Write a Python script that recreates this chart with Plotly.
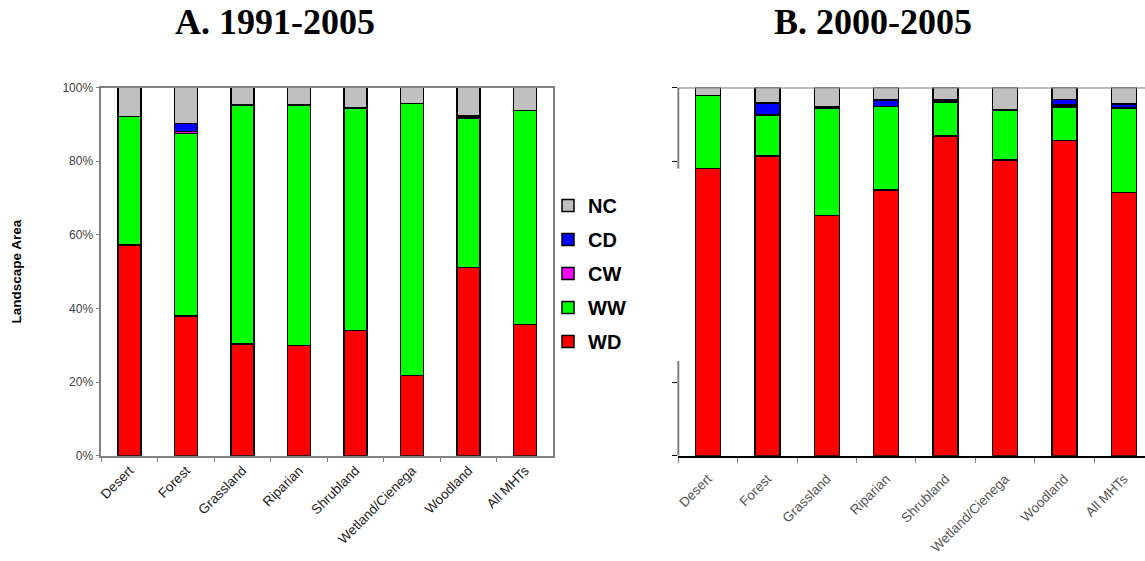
import plotly.graph_objects as go

categories = ["Desert", "Forest", "Grassland", "Riparian", "Shrubland",
              "Wetland/Cienega", "Woodland", "All MHTs"]

# Panel A: 1991-2005 (percent of landscape area)
a_WD = [57.2, 38.0, 30.4, 29.9, 34.0, 21.8, 51.1, 35.6]
a_WW = [34.9, 49.5, 64.8, 65.3, 60.4, 73.8, 40.6, 58.2]
a_CW = [0.0, 0.6, 0.0, 0.0, 0.0, 0.0, 0.0, 0.0]
a_CD = [0.0, 2.1, 0.0, 0.0, 0.0, 0.0, 0.5, 0.0]
a_NC = [7.9, 9.8, 4.8, 4.8, 5.6, 4.4, 7.8, 6.2]

# Panel B: 2000-2005
b_WD = [78.0, 81.4, 65.2, 72.1, 86.8, 80.3, 85.6, 71.5]
b_WW = [19.8, 11.1, 29.2, 22.7, 9.3, 13.6, 9.1, 22.9]
b_CW = [0.0, 0.0, 0.0, 0.0, 0.0, 0.0, 0.5, 0.0]
b_CD = [0.0, 3.3, 0.4, 1.8, 0.5, 0.0, 1.6, 1.1]
b_NC = [2.2, 4.2, 5.2, 3.4, 3.4, 6.1, 3.2, 4.5]

series_names = ["WD", "WW", "CW", "CD", "NC"]
legend_rank = {"NC": 1, "CD": 2, "CW": 3, "WW": 4, "WD": 5}
series_colors = {"WD": "#FF0000", "WW": "#00FF00", "CW": "#FF00FF",
                 "CD": "#0000FF", "NC": "#C0C0C0"}
panel_a = {"WD": a_WD, "WW": a_WW, "CW": a_CW, "CD": a_CD, "NC": a_NC}
panel_b = {"WD": b_WD, "WW": b_WW, "CW": b_CW, "CD": b_CD, "NC": b_NC}

W, H = 1145, 561
fig = go.Figure()

for name in series_names:
    fig.add_trace(go.Bar(
        x=categories, y=panel_a[name], name=name, xaxis="x", yaxis="y",
        width=0.41, legendgroup=name, legendrank=legend_rank[name], showlegend=True,
        marker=dict(color=series_colors[name], line=dict(color="black", width=1.5)),
    ))
for name in series_names:
    fig.add_trace(go.Bar(
        x=categories, y=panel_b[name], name=name, xaxis="x2", yaxis="y2",
        width=0.42, legendgroup=name, legendrank=legend_rank[name], showlegend=False,
        marker=dict(color=series_colors[name], line=dict(color="black", width=1.5)),
    ))

ydom = [(H - 455.7) / H, (H - 87.5) / H]
tickfont_y = dict(family="Liberation Sans, Arial, sans-serif", size=12, color="#404040")
tickfont_a = dict(family="Liberation Sans, Arial, sans-serif", size=13.5, color="#222222")
tickfont_b = dict(family="Liberation Sans, Arial, sans-serif", size=13.5, color="#555555")

fig.update_layout(
    width=W, height=H,
    margin=dict(l=0, r=0, t=0, b=0, autoexpand=False),
    paper_bgcolor="white", plot_bgcolor="white",
    barmode="stack",
    xaxis=dict(domain=[101.3 / W, 553.3 / W], type="category", automargin=False,
               range=[-0.5, 7.5], showline=True, linecolor="#808080", linewidth=1.5,
               mirror=True, ticks="outside", tickson="boundaries", ticklen=5,
               tickcolor="#808080", tickangle=-45, tickfont=tickfont_a,
               showgrid=False),
    yaxis=dict(domain=ydom, range=[0, 100], tickvals=[0, 20, 40, 60, 80, 100],
               ticktext=["0%", "20%", "40%", "60%", "80%", "100%"], automargin=False,
               showline=True, linecolor="#808080", linewidth=1.5, mirror=True,
               ticks="outside", ticklen=4, tickcolor="#808080",
               tickfont=tickfont_y, showgrid=False, zeroline=False),
    xaxis2=dict(domain=[678.3 / W, 1.0], type="category", anchor="y2", automargin=False,
                range=[-0.5, 7.357], showline=True, linecolor="black", linewidth=2,
                ticks="outside", tickson="boundaries", ticklen=5,
                tickcolor="#808080", tickangle=-45, tickfont=tickfont_b,
                ticklabelstandoff=8, showgrid=False),
    yaxis2=dict(domain=ydom, anchor="x2", range=[0, 100], automargin=False,
                tickvals=[0, 20, 80, 100], showticklabels=False,
                showline=False, ticks="outside", ticklen=5, tickcolor="black",
                showgrid=False, zeroline=False),
    showlegend=True,
    legend=dict(x=548 / W, y=1 - 186 / H, xanchor="left", yanchor="top",
                traceorder="grouped", tracegroupgap=5,
                font=dict(family="Liberation Sans, Arial, sans-serif", size=20,
                          color="black", weight="bold"),
                bgcolor="rgba(0,0,0,0)"),
    annotations=[
        dict(text="A. 1991-2005", x=275 / W, y=1 - 22 / H, xref="paper", yref="paper",
             showarrow=False, xanchor="center", yanchor="middle",
             font=dict(family="Liberation Serif, Times New Roman, serif", size=36,
                       color="black", weight="bold")),
        dict(text="B. 2000-2005", x=873 / W, y=1 - 22 / H, xref="paper", yref="paper",
             showarrow=False, xanchor="center", yanchor="middle",
             font=dict(family="Liberation Serif, Times New Roman, serif", size=36,
                       color="black", weight="bold")),
        dict(text="Landscape Area", x=17 / W, y=(ydom[0] + ydom[1]) / 2,
             xref="paper", yref="paper", showarrow=False, textangle=-90,
             xanchor="center", yanchor="middle",
             font=dict(family="Liberation Sans, Arial, sans-serif", size=13.5,
                       color="black", weight="bold")),
    ],
    shapes=[
        # panel B: gray top frame line
        dict(type="line", xref="x2 domain", yref="y2", x0=0, x1=1, y0=100, y1=100,
             line=dict(color="#808080", width=2)),
        # panel B: broken y-axis line (upper and lower pieces)
        dict(type="line", xref="x2 domain", yref="y2", x0=0, x1=0, y0=78, y1=100,
             line=dict(color="#808080", width=2)),
        dict(type="line", xref="x2 domain", yref="y2", x0=0, x1=0, y0=0, y1=25.7,
             line=dict(color="#808080", width=2)),
    ],
)

fig.write_html("out.html", config={"displayModeBar": False},
               post_script="document.body.style.margin='0';document.body.style.padding='0';")
